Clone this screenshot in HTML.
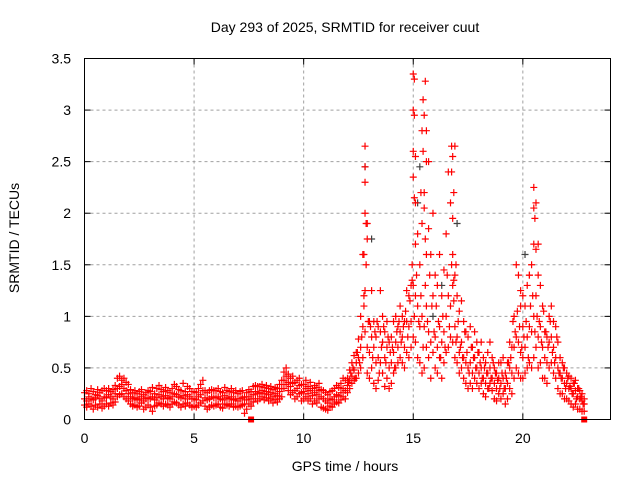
<!DOCTYPE html>
<html><head><meta charset="utf-8"><style>
html,body{margin:0;padding:0;background:#fff;}
svg{display:block;font-family:"Liberation Sans",sans-serif;}
</style></head><body>
<svg id="chart" width="640" height="480" viewBox="0 0 640 480" xmlns="http://www.w3.org/2000/svg">
<rect width="640" height="480" fill="#fff"/>
<text x="345" y="32" font-size="14" text-anchor="middle">Day 293 of 2025, SRMTID for receiver cuut</text>
<text x="0" y="0" font-size="14" text-anchor="middle" transform="translate(19,238) rotate(-90)">SRMTID / TECUs</text>
<text x="345" y="471" font-size="14" text-anchor="middle">GPS time / hours</text>
<g id="grid"></g>
<g id="ticks"></g>
<g id="gray"></g>
<g id="marks"></g>
<rect x="84.5" y="58.5" width="526" height="361" fill="none" stroke="#000" stroke-width="1"/>
</svg>
<script>
const xTicks=[0,5,10,15,20];
const yTicks=[0,0.5,1,1.5,2,2.5,3,3.5];
const yTickLabels=["0","0.5","1","1.5","2","2.5","3","3.5"];
const hourStart=0, hourStep=0.1;
const mid=[.20,.18,.22,.20,.19,.21,.23,.20,.18,.22,
.21,.24,.22,.20,.25,.30,.32,.34,.30,.28,
.25,.22,.20,.21,.19,.20,.22,.18,.20,.21,
.20,.22,.19,.21,.24,.22,.20,.23,.21,.20,
.22,.25,.24,.22,.21,.23,.20,.24,.22,.20,
.20,.19,.22,.24,.28,.21,.19,.20,.22,.21,
.21,.22,.20,.19,.23,.21,.20,.22,.19,.20,
.18,.20,.21,.15,.19,.22,.20,.24,.27,.25,
.26,.28,.25,.27,.24,.26,.22,.25,.23,.27,
.30,.38,.42,.36,.32,.35,.28,.30,.33,.26,
.27,.30,.25,.28,.23,.26,.24,.28,.22,.20,
.18,.16,.20,.19,.22,.24,.23,.26,.30,.28,
.33,.38,.42,.48,.55,.60,.70,.90,1.25,.70,
.65,.80,.70,.55,.60,.85,.75,.60,.70,.50,
.55,.65,.75,.70,.85,.80,.70,.95,.90,.95,
1.30,1.20,1.10,.90,1.00,.90,1.10,.85,.75,1.20,
.80,.70,.90,.75,.85,1.00,1.20,1.10,1.30,.90,
.80,.65,.75,.60,.55,.50,.55,.45,.60,.50,
.45,.50,.40,.35,.45,.50,.40,.35,.30,.40,
.35,.40,.30,.35,.50,.45,.70,.80,.75,.65,
.60,.70,.80,.90,.85,1.00,1.20,.80,.90,.70,
.60,.55,.75,.80,.70,.60,.50,.45,.40,.35,
.35,.30,.30,.25,.28,.22,.20,.18,.15];
const high=[.26,.28,.25,.30,.27,.24,.29,.26,.28,.30,
.28,.30,.27,.29,.33,.40,.42,.38,.40,.36,
.34,.29,.26,.28,.25,.27,.29,.24,.26,.28,
.27,.31,.25,.30,.33,.29,.27,.31,.28,.26,
.30,.34,.32,.29,.28,.35,.27,.32,.30,.27,
.27,.26,.30,.34,.38,.28,.26,.28,.29,.28,
.28,.30,.27,.26,.31,.28,.27,.30,.26,.28,
.25,.27,.28,.22,.26,.29,.27,.32,.33,.32,
.32,.34,.31,.33,.30,.32,.29,.31,.30,.34,
.38,.46,.50,.44,.40,.42,.36,.38,.40,.34,
.34,.38,.32,.36,.30,.33,.31,.35,.29,.28,
.26,.24,.27,.28,.30,.33,.31,.35,.40,.38,
.40,.48,.55,.62,.65,.78,1.0,1.6,2.65,1.90,
.95,1.25,.95,.80,.90,1.25,1.00,.85,.95,.75,
.80,.95,1.0,.90,1.10,1.0,.95,1.25,1.20,1.30,
2.60,2.10,1.80,1.50,1.90,2.20,2.80,2.50,1.60,2.00,
1.40,1.30,1.60,1.20,1.45,1.80,2.40,2.10,1.60,1.40,
1.20,1.05,1.15,.95,.85,.80,.90,.70,.85,.75,
.65,.75,.60,.55,.65,.75,.60,.50,.45,.55,
.55,.60,.45,.55,.75,.70,1.00,1.50,1.40,1.10,
.90,1.10,1.30,1.40,1.50,1.70,2.10,1.40,1.30,1.10,
.85,.80,1.00,1.10,.95,.90,.75,.60,.55,.50,
.45,.42,.40,.35,.38,.30,.28,.25,.20];
const low=[.14,.12,.15,.13,.10,.14,.12,.15,.11,.13,
.15,.13,.16,.14,.17,.22,.24,.25,.22,.20,
.18,.15,.13,.14,.12,.13,.16,.10,.12,.14,
.12,.08,.13,.14,.16,.15,.13,.15,.14,.12,
.15,.17,.16,.14,.12,.15,.13,.16,.14,.12,
.13,.12,.14,.16,.18,.13,.10,.12,.14,.13,
.14,.15,.12,.11,.15,.14,.13,.15,.12,.13,
.12,.13,.14,.06,.10,.15,.13,.17,.20,.18,
.20,.22,.19,.21,.18,.20,.16,.19,.17,.20,
.22,.30,.34,.28,.24,.26,.20,.22,.25,.18,
.20,.22,.18,.20,.15,.18,.16,.20,.12,.11,
.10,.09,.13,.12,.15,.17,.16,.19,.22,.20,
.26,.30,.35,.38,.40,.45,.50,.60,.85,.45,
.40,.50,.35,.30,.38,.55,.45,.32,.40,.30,
.35,.45,.50,.55,.60,.55,.50,.65,.60,.70,
.80,.75,.60,.55,.45,.50,.70,.60,.40,.65,
.50,.45,.60,.40,.55,.65,.70,.80,.75,.60,
.55,.45,.50,.40,.35,.30,.35,.30,.40,.35,
.30,.35,.25,.22,.30,.35,.28,.20,.18,.25,
.20,.25,.15,.20,.30,.25,.40,.50,.45,.40,
.40,.45,.50,.55,.50,.60,.70,.50,.55,.40,
.40,.35,.50,.55,.45,.40,.30,.25,.25,.20,
.20,.18,.15,.12,.15,.10,.10,.08,.08];
const activeStart=12.05;
const active=[.36,.45,.50,.40,.65,.55,.80,1.10,1.50,.95,
.90,.60,.85,.95,.45,.70,.90,.55,.80,.65,
.70,.50,.85,.95,.75,.90,1.05,.80,1.15,1.35,
1.00,1.40,.95,1.20,.70,1.30,.95,1.40,1.10,.85,
1.10,.95,.60,1.00,.70,1.40,.90,1.50,1.15,.75,
.95,.70,.60,.85,.65,.45,.70,.60,.50,.65,
.55,.40,.50,.45,.30,.40,.55,.45,.38,.30,
.45,.30,.40,.55,.60,.95,.85,1.05,.90,.70,
.80,.95,.60,1.10,1.20,.85,1.00,.95,.75,1.05,
.85,.70,.95,.65,.55,.80,.45,.40,.50,.30,
.40,.32,.25,.35,.20,.30,.22,.15];
const peakHours=[12.8,12.8,12.8,12.75,12.9,12.85,12.75,15.0,15.05,15.0,15.05,15.1,15.0,15.05,15.1,14.95,15.55,15.45,15.5,15.4,15.45,15.6,15.35,15.5,15.55,15.7,15.6,16.75,16.8,16.75,16.9,16.85,16.8,16.95,16.85,20.5,20.5,20.55,20.6,20.7,20.3,19.9,20.0];
const peakValues=[2.45,2.3,2.0,1.6,1.75,1.9,1.2,3.35,3.30,3.0,2.95,2.55,2.35,2.15,1.7,1.5,3.28,3.1,2.95,2.8,2.6,2.5,2.2,2.05,1.75,1.85,1.6,2.65,2.55,2.4,2.65,2.2,1.95,1.5,1.35,2.25,2.05,1.95,1.65,1.7,1.4,1.25,1.2];
const grayHours=[12.8,15.2,16.3,20.1,15.9,13.1,15.3,17.0];
const grayValues=[2.45,2.1,1.3,1.6,1.0,1.75,2.45,1.9];
const flagHours=[7.6,22.8];
const flagValues=[0,0];

const X0=84.5,X1=610.5,Y0=419.5,Y1=58.5,XMAX=24,YMAX=3.5;
const sx=h=>X0+(h/XMAX)*(X1-X0);
const sy=v=>Y0-(v/YMAX)*(Y0-Y1);
const NS="http://www.w3.org/2000/svg";
function mk(tag,attrs,parent){const e=document.createElementNS(NS,tag);for(const k in attrs)e.setAttribute(k,attrs[k]);parent.appendChild(e);return e;}
const grid=document.getElementById('grid'),ticks=document.getElementById('ticks');
xTicks.forEach(t=>{
  const x=sx(t);
  if(t>0){const g=mk('line',{x1:x,x2:x,y1:Y1,y2:Y0,stroke:'#a0a0a0','stroke-dasharray':'3,3'},grid);
  
  }
  mk('line',{x1:x,x2:x,y1:Y0,y2:Y0-6,stroke:'#000'},ticks);
  mk('line',{x1:x,x2:x,y1:Y1,y2:Y1+6,stroke:'#000'},ticks);
  const l=mk('text',{x:x,y:443,'font-size':14,'text-anchor':'middle'},ticks);
  
  
  l.textContent=String(t);
});
yTicks.forEach((t,i)=>{
  const y=sy(t);
  if(t>0&&t<YMAX){const g=mk('line',{x1:X0,x2:X1,y1:y,y2:y,stroke:'#a0a0a0','stroke-dasharray':'3,3'},grid);
  
  }
  mk('line',{x1:X0,x2:X0+6,y1:y,y2:y,stroke:'#000'},ticks);
  mk('line',{x1:X1,x2:X1-6,y1:y,y2:y,stroke:'#000'},ticks);
  const l=mk('text',{x:71,y:y+5,'font-size':14,'text-anchor':'end'},ticks);
  
  
  l.textContent=yTickLabels[i];
});
function plus(g,h,v,color){
  const x=sx(h),y=sy(v);
  const p=mk('path',{d:`M${x-3.5},${y}H${x+3.5}M${x},${y-3.5}V${y+3.5}`,stroke:color,'stroke-width':1.2,fill:'none'},g);
  
  
}
const gGray=document.getElementById('gray'),gRed=document.getElementById('marks');
grayHours.forEach((h,i)=>plus(gGray,h,grayValues[i],'#404040'));
[mid,high,low].forEach(s=>s.forEach((v,i)=>plus(gRed,hourStart+i*hourStep,v,'#ff0000')));
active.forEach((v,i)=>plus(gRed,activeStart+i*hourStep,v,'#ff0000'));
peakHours.forEach((h,i)=>plus(gRed,h,peakValues[i],'#ff0000'));
flagHours.forEach((h,i)=>{
  const r=mk('rect',{x:sx(h)-3,y:sy(flagValues[i])-3,width:6,height:6,fill:'#ff0000'},gRed);
  
  
});
</script>
</body></html>
